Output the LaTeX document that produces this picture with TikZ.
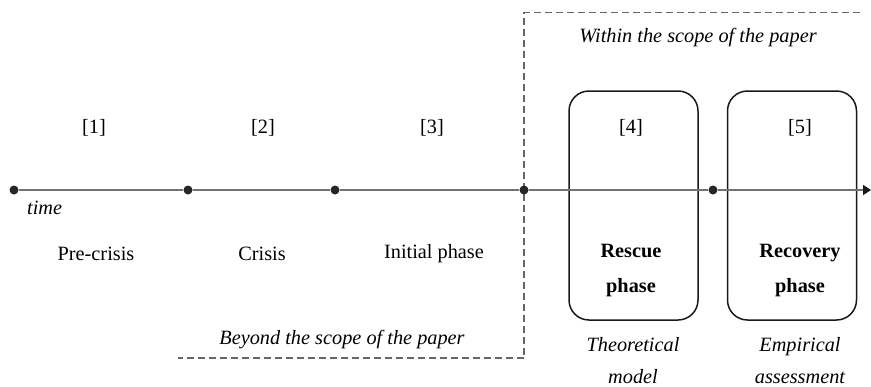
\documentclass[tikz,border=0pt]{standalone}
\usepackage{fontspec}
\setmainfont{Liberation Serif}
\usetikzlibrary{arrows.meta}
\begin{document}
\begin{tikzpicture}[x=1pt,y=-1pt,
  every node/.style={font=\fontsize{20.3}{35}\selectfont},
  dot/.style={circle,fill=black!85,inner sep=0pt,minimum size=9pt},
  tline/.style={draw=black!55,line width=1.6pt},
  scopeline/.style={draw=black!60,line width=1.1pt,dash pattern=on 7pt off 4pt},
  phasebox/.style={draw=black!90,line width=1.5pt,rounded corners=20pt,minimum width=129pt,minimum height=229pt,inner sep=0pt},
  lbl/.style={align=center,inner sep=0pt},
  itlbl/.style={inner sep=0pt,anchor=base,font=\fontsize{20.3}{24}\selectfont\itshape}]
\useasboundingbox (0,0) rectangle (871,386);
% scope lines
\coordinate (tr) at (860,12.5);
\coordinate (tc) at (524,12.5);
\coordinate (bc) at (524,358);
\coordinate (bl) at (178,358);
\draw[scopeline] (tr) -- (tc) -- (bc) -- (bl);
% boxes
\node[phasebox] (b4) at (633.5,205.5) {};
\node[phasebox] (b5) at (792,205.5) {};
% timeline dots
\node[dot] (d0) at (14,190) {};
\node[dot] (d1) at (188,190) {};
\node[dot] (d2) at (335,190) {};
\node[dot] (d3) at (524,190) {};
\node[dot] (d4) at (713,190) {};
\coordinate (dend) at (871,190);
\draw[tline] (d0) -- (d1);
\draw[tline] (d1) -- (d2);
\draw[tline] (d2) -- (d3);
\draw[tline] (d3) -- (d4);
\draw[tline,-{Triangle[length=8pt,width=10pt,color=black!90]}] (d4) -- (dend);
% labels
\node[lbl,anchor=west,font=\fontsize{20.3}{24}\selectfont\itshape] (time) at (27,208) {time};
\node[lbl] (n1) at (94,128) {[1]};
\node[lbl] (n2) at (263,128) {[2]};
\node[lbl] (n3) at (432,128) {[3]};
\node[lbl] (n4) at (631,128) {[4]};
\node[lbl] (n5) at (800,128) {[5]};
\node[lbl] (p1) at (96,254) {Pre-crisis};
\node[lbl] (p2) at (262,254) {Crisis};
\node[lbl] (p3) at (434,254) {Initial phase};
\node[lbl,font=\fontsize{20.3}{35}\selectfont\bfseries] (p4) at (631,271) {Rescue\\phase};
\node[lbl,font=\fontsize{20.3}{35}\selectfont\bfseries] (p5) at (800,271) {Recovery\\phase};
\node[itlbl] (m4a) at (633,351) {Theoretical};
\node[itlbl] (m4b) at (633,383) {model};
\node[itlbl] (m5a) at (800,351) {Empirical};
\node[itlbl] (m5b) at (800,383) {assessment};
\node[lbl,font=\fontsize{20.3}{24}\selectfont\itshape] (within) at (698,38) {Within the scope of the paper};
\node[lbl,font=\fontsize{20.3}{24}\selectfont\itshape] (beyond) at (342,340) {Beyond the scope of the paper};
\end{tikzpicture}
\end{document}
